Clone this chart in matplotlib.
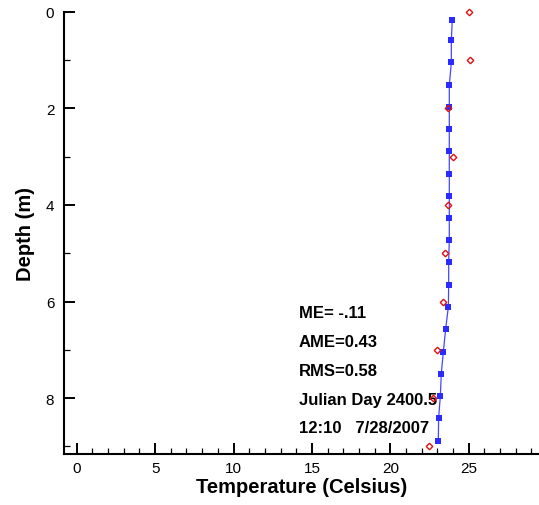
import matplotlib
matplotlib.use("Agg")
import matplotlib.pyplot as plt
from matplotlib.ticker import MultipleLocator

plt.rcParams["font.family"] = ["Liberation Sans", "DejaVu Sans"]

# model profile (blue squares + line)
model_depth = [0.17, 0.59, 1.05, 1.52, 1.97, 2.43, 2.88, 3.36, 3.82, 4.27,
               4.73, 5.18, 5.65, 6.11, 6.56, 7.04, 7.49, 7.95, 8.41, 8.88]
model_temp = [23.95, 23.89, 23.89, 23.76, 23.76, 23.76, 23.76, 23.76, 23.76, 23.76,
              23.76, 23.72, 23.72, 23.70, 23.53, 23.38, 23.25, 23.19, 23.08, 23.06]
# observations (red diamonds)
obs_depth = [0, 1, 2, 3, 4, 5, 6, 7, 8, 9]
obs_temp = [25.0, 25.07, 23.7, 23.98, 23.7, 23.47, 23.36, 22.98, 22.7, 22.49]

stats = ["ME= -.11", "AME=0.43", "RMS=0.58", "Julian Day 2400.5", "12:10   7/28/2007"]

BLUE = "#2b2bff"; RED = "#e01010"

fig = plt.figure(figsize=(5.39, 5.06), dpi=100)
ax = fig.add_axes([64 / 539, 51.3 / 506, 1 - 64 / 539, 442 / 506])

ax.plot(model_temp, model_depth, "-", color="#4646ff", lw=0.9, zorder=2)
ax.plot(model_temp, model_depth, "s", color=BLUE, ms=3.8, mew=0, zorder=3)
ax.plot(obs_temp, obs_depth, "D", mfc="none", mec=RED, ms=3.3, mew=1.0, zorder=4, clip_on=False)

ax.set_xlim(-0.81, 29.48)
ax.set_ylim(9.15, 0)

ax.xaxis.set_major_locator(MultipleLocator(5))
ax.xaxis.set_minor_locator(MultipleLocator(1))
ax.yaxis.set_major_locator(MultipleLocator(2))
ax.yaxis.set_minor_locator(MultipleLocator(1))

for s in ("top", "right"):
    ax.spines[s].set_visible(False)
for s in ("left", "bottom"):
    ax.spines[s].set_linewidth(1.5)

ax.tick_params(which="major", direction="in", length=8, width=1.4, labelsize=11, color="black")
ax.tick_params(which="minor", direction="in", length=4, width=0.9)
ax.tick_params(axis="x", which="major", pad=5.5)
ax.tick_params(axis="y", which="major", pad=7)

ax.set_xlabel("Temperature (Celsius)", fontsize=14.5, fontweight="bold", labelpad=1)
ax.set_ylabel("Depth (m)", fontsize=14.5, fontweight="bold", labelpad=8)

for i, t in enumerate(stats):
    ax.text(14.18, 6.33 + 0.594 * i, t, fontsize=12, fontweight="bold", va="baseline", ha="left")

fig.savefig("out.png", dpi=100)
